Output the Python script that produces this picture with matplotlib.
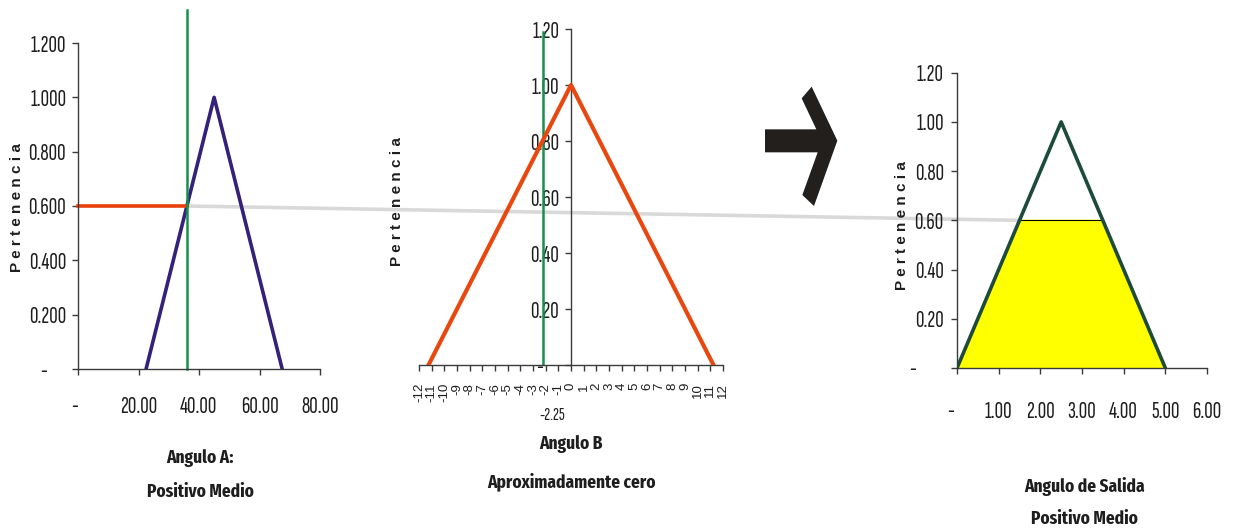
import numpy as np
import matplotlib
matplotlib.use('Agg')
import matplotlib.pyplot as plt
from matplotlib.patches import ConnectionPatch, Polygon

NARROW = ['Sofia Sans Extra Condensed', 'Roboto Condensed', 'Liberation Sans', 'DejaVu Sans']
BOLD_NARROW = ['Fira Sans Extra Condensed', 'Roboto Condensed', 'Liberation Sans', 'DejaVu Sans']
plt.rcParams['font.family'] = NARROW

# membership functions
a_x = [22.5, 45.0, 67.5]
a_y = [0, 1, 0]
b_x = [-11.25, 0, 11.25]
b_y = [0, 1, 0]
c_x = [0, 2.5, 5.0]
c_y = [0, 1, 0]

a_input = 36.0       # green cut in Angulo A
a_degree = 0.6       # resulting membership
b_input = -2.25      # green cut in Angulo B
c_clip_x = [0, 1.5, 3.5, 5.0]
c_clip_y = [0, 0.6, 0.6, 0]

a_xticks = [0, 20, 40, 60, 80]
a_xlabels = ['-  ', '20.00', '40.00', '60.00', '80.00']
a_yticks = [0, 0.2, 0.4, 0.6, 0.8, 1.0, 1.2]
a_ylabels = ['-      ', '0.200', '0.400', '0.600', '0.800', '1.000', '1.200']
b_xticks = list(range(-12, 13))
b_yticks = [0, 0.2, 0.4, 0.6, 0.8, 1.0, 1.2]
b_ylabels = ['-     ', '0.20', '0.40', '0.60', '0.80', '1.00', '1.20']
c_xticks = [0, 1, 2, 3, 4, 5, 6]
c_xlabels = ['-    ', '1.00', '2.00', '3.00', '4.00', '5.00', '6.00']
c_yticks = [0, 0.2, 0.4, 0.6, 0.8, 1.0, 1.2]
c_ylabels = ['-         ', '0.20', '0.40', '0.60', '0.80', '1.00', '1.20']

W, H = 1233, 531
fig = plt.figure(figsize=(W / 100, H / 100), dpi=100)


def px_axes(x0, x1, y_top, y_bot):
    return fig.add_axes([x0 / W, 1 - y_bot / H, (x1 - x0) / W, (y_bot - y_top) / H])


axis_col = '#3a3a3a'
txt_col = '#1e1e1e'
tick_fs = 17


def style(ax):
    for s in ['top', 'right']:
        ax.spines[s].set_visible(False)
    for s in ['left', 'bottom']:
        ax.spines[s].set_color(axis_col)
        ax.spines[s].set_linewidth(1.0)
    ax.tick_params(colors=axis_col, labelcolor=txt_col, direction='out', length=4.5, width=1.0)
    ax.patch.set_alpha(0)


# ---- Angulo A
axA = px_axes(78, 320, 43, 369)
style(axA)
axA.set_xlim(0, 80)
axA.set_ylim(0, 1.2)
axA.plot(a_x, a_y, color='#35207a', lw=2.6, solid_capstyle='round')
axA.plot([0, a_input], [a_degree, a_degree], color='#e8400c', lw=2.6, clip_on=False)
axA.axvline(a_input, 0, 1.1, color='#16904a', lw=1.8, clip_on=False)
axA.set_xticks(a_xticks, a_xlabels)
axA.set_yticks(a_yticks, a_ylabels)
axA.tick_params(axis='x', pad=15, labelsize=tick_fs)
axA.tick_params(axis='y', pad=4, labelsize=tick_fs)

# ---- Angulo B
axB = px_axes(419, 723, 29, 365)
style(axB)
axB.set_xlim(-12, 12)
axB.set_ylim(0, 1.2)
axB.spines['left'].set_position(('data', 0))
axB.axvline(b_input, 0, 0.99, color='#16904a', lw=1.8)
axB.plot(b_x, b_y, color='#e8480f', lw=3.0, zorder=3)
axB.set_xticks(b_xticks, [str(t) for t in b_xticks], rotation=90)
axB.set_yticks(b_yticks, b_ylabels)
axB.tick_params(axis='x', pad=9, labelsize=9.5, length=4)
axB.tick_params(axis='y', pad=4, labelsize=tick_fs)
for lab in axB.get_xticklabels():
    lab.set_family(['Liberation Sans', 'DejaVu Sans'])
axB.annotate(str(b_input), xy=(b_input, 0), xycoords=('data', 'axes fraction'),
             xytext=(-2, -31), textcoords='offset points', ha='left', va='top',
             fontsize=13, color=txt_col)

# ---- Angulo de Salida
axC = px_axes(957, 1207, 72.7, 368)
style(axC)
axC.set_xlim(0, 6)
axC.set_ylim(0, 1.2)
axC.fill(c_clip_x, c_clip_y, color='#ffff00', zorder=1)
axC.plot(c_clip_x[1:3], c_clip_y[1:3], color='black', lw=0.8, zorder=2)
axC.plot(c_x, c_y, color='#1d4a3a', lw=2.6, zorder=3)
axC.set_xticks(c_xticks, c_xlabels)
axC.set_yticks(c_yticks, c_ylabels)
axC.tick_params(axis='x', pad=19, labelsize=tick_fs)
axC.tick_params(axis='y', pad=5, labelsize=tick_fs)

# grey link line from A's cut to the clipped output
con = ConnectionPatch(xyA=(a_input, a_degree), coordsA=axA.transData,
                      xyB=(c_clip_x[1], c_clip_y[1]), coordsB=axC.transData,
                      color='#d9d9d9', lw=2.6, zorder=0)
fig.add_artist(con)

# y-axis titles
for x, y in [(17, 208), (397, 202), (902, 226)]:
    fig.text(x / W, 1 - y / H, 'P e r t e n e n c i a', rotation=90, ha='center', va='center',
             fontsize=11, fontweight='bold', color=txt_col,
             family=['Liberation Sans', 'DejaVu Sans'])

# x-axis titles
titles = [(200, 458, 'Angulo A:'), (200, 492, 'Positivo Medio'),
          (571, 444, 'Angulo B'), (571, 482, 'Aproximadamente cero'),
          (1084, 486, 'Angulo de Salida'), (1084, 519, 'Positivo Medio')]
for x, y, s in titles:
    fig.text(x / W, 1 - y / H, s, ha='center', va='center', fontsize=13.5,
             fontweight='bold', color=txt_col, family=BOLD_NARROW)

# big arrow between the inputs and the output
arrow_zoom = [(75, 238), (229, 238), (185, 145), (215, 110), (292, 272),
              (222, 468), (187, 435), (233, 307), (75, 307)]
pts = [((740 + zx / 3) / W, 1 - (50 + zy / 3) / H) for zx, zy in arrow_zoom]
fig.add_artist(Polygon(pts, closed=True, transform=fig.transFigure,
                       facecolor='#231f1c', edgecolor='none'))

fig.savefig('out.png', dpi=100)
